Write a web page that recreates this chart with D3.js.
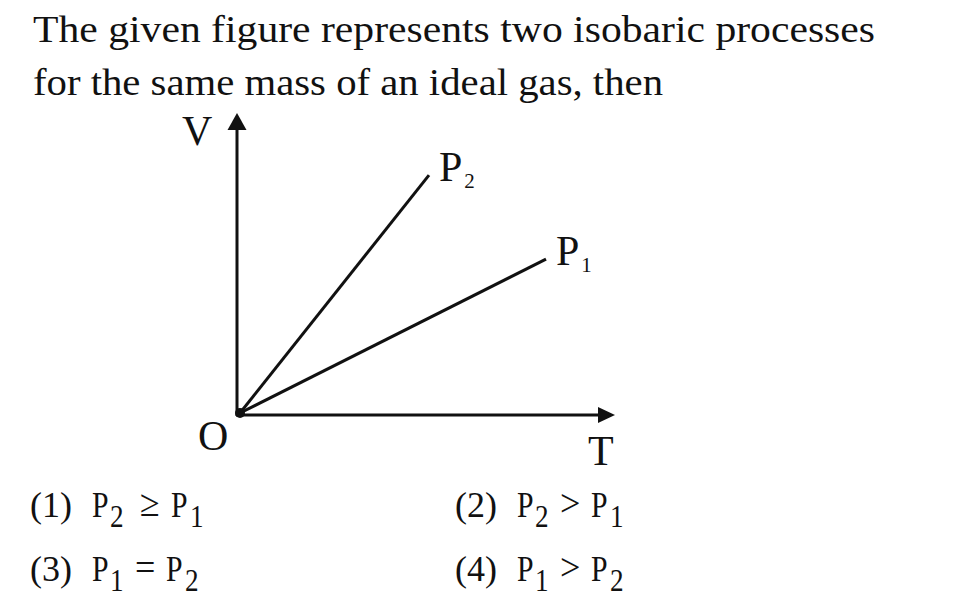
<!DOCTYPE html>
<html>
<head>
<meta charset="utf-8">
<script src="https://cdn.jsdelivr.net/npm/d3@7"></script>
<style>
  html, body { margin: 0; padding: 0; background: #fff; }
  svg { display: block; }
  text { font-family: "Liberation Serif", "Times New Roman", serif; fill: #111; }
</style>
</head>
<body>
<svg id="chart" width="956" height="616"></svg>
<script>
// ---- Data ----
const questionLines = [
  "The given figure represents two isobaric processes",
  "for the same mass of an ideal gas, then"
];
const seriesNames = ["P", "P"];
const seriesSubs = ["2", "1"];
// end points of the two straight isobars (T, V) in arbitrary units; both start at origin
const seriesT = [5.04, 8.16];
const seriesV = [7.93, 5.13];
const axisLabels = { x: "T", y: "V", origin: "O" };
const optionNums = ["(1)", "(2)", "(3)", "(4)"];
const optionLeft = [["P", "2"], ["P", "2"], ["P", "1"], ["P", "1"]];
const optionOps = ["\u2265", ">", "=", ">"];
const optionRight = [["P", "1"], ["P", "1"], ["P", "2"], ["P", "2"]];

// ---- Layout ----
const svg = d3.select("#chart");
const ink = "#111";

// Question text
const qWidths = [842, 630];
svg.selectAll("text.q").data(questionLines).join("text")
  .attr("class", "q")
  .attr("x", 33)
  .attr("y", (d, i) => 42 + i * 53)
  .attr("font-size", 38)
  .attr("textLength", (d, i) => qWidths[i])
  .attr("lengthAdjust", "spacingAndGlyphs")
  .text(d => d);

// Scales
const x = d3.scaleLinear().domain([0, 10]).range([240, 615]);
const y = d3.scaleLinear().domain([0, 10]).range([413, 113]);

const g = svg.append("g");

// Axes (lines + arrowheads)
const axX = x(0) - 3, axY = y(0) + 2;
g.append("line").attr("x1", axX).attr("y1", axY + 1).attr("x2", axX).attr("y2", y(10) + 12)
  .attr("stroke", ink).attr("stroke-width", 3);
g.append("path")
  .attr("d", `M${axX},${y(10)} L${axX - 9.5},${y(10) + 17} L${axX + 9.5},${y(10) + 17} Z`)
  .attr("fill", ink);
g.append("line").attr("x1", axX - 1).attr("y1", axY).attr("x2", x(10) - 12).attr("y2", axY)
  .attr("stroke", ink).attr("stroke-width", 3);
g.append("path")
  .attr("d", `M${x(10)},${axY} L${x(10) - 17},${axY - 8} L${x(10) - 17},${axY + 8} Z`)
  .attr("fill", ink);

// Isobars
const series = seriesT.map((t, i) => ({ t, v: seriesV[i], name: seriesNames[i], sub: seriesSubs[i] }));
const line = d3.line().x(d => x(d[0])).y(d => y(d[1]));
g.selectAll("path.iso").data(series).join("path")
  .attr("class", "iso")
  .attr("d", d => line([[0, 0], [d.t, d.v]]))
  .attr("fill", "none").attr("stroke", ink).attr("stroke-width", 3);

// origin dot
g.append("circle").attr("cx", x(0)).attr("cy", y(0)).attr("r", 5).attr("fill", ink);

// Series labels
series.forEach(d => {
  const t = g.append("text")
    .attr("x", x(d.t) + 10)
    .attr("y", y(d.v) + 6)
    .attr("font-size", 42);
  t.append("tspan").text(d.name);
  t.append("tspan").attr("font-size", 21).attr("dx", 2).attr("dy", 7).text(d.sub);
});

// Axis labels
g.append("text").attr("x", axX - 55).attr("y", y(10) + 32).attr("font-size", 42).text(axisLabels.y);
g.append("text").attr("x", x(10) - 27).attr("y", y(0) + 52).attr("font-size", 42).text(axisLabels.x);
g.append("text").attr("x", x(0) - 42).attr("y", y(0) + 37).attr("font-size", 42).text(axisLabels.origin);

// Options
const colX = [30, 455];
const rowY = [517, 581];
optionNums.forEach((num, i) => {
  const cx = colX[i % 2], cy = rowY[Math.floor(i / 2)];
  const og = svg.append("g").attr("transform", `translate(${cx},${cy})`);
  const piece = (px, dy, size, txt, sx) => og.append("text")
    .attr("transform", `translate(${px},${dy}) scale(${sx || 0.85},1)`)
    .attr("font-size", size).text(txt);
  piece(0, 0, 36, num, 1.0);
  piece(62, 0, 35, optionLeft[i][0]);
  piece(80, 10, 32, optionLeft[i][1]);
  const opX = optionOps[i] === "\u2265" ? 110 : 105;
  piece(opX, -1, 38, optionOps[i], 0.95);
  const p2x = optionOps[i] === "\u2265" ? 141 : 136;
  piece(p2x, 0, 35, optionRight[i][0]);
  piece(p2x + 19, 10, 32, optionRight[i][1]);
});
</script>
</body>
</html>
